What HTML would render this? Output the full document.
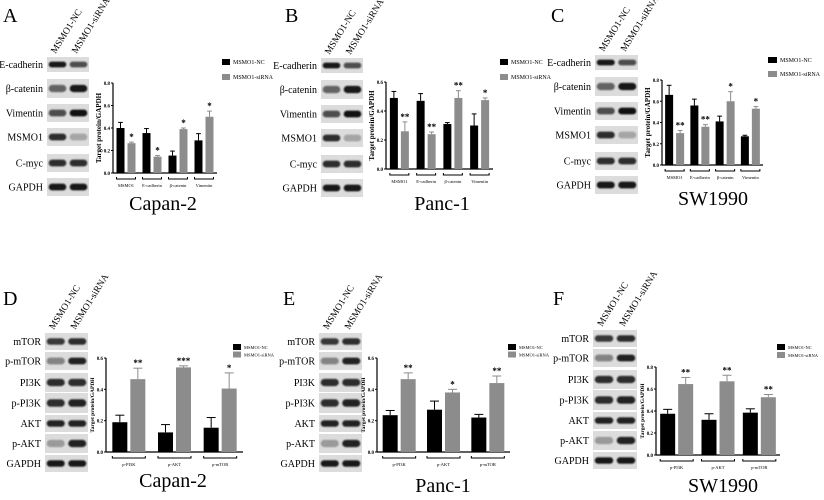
<!DOCTYPE html>
<html><head><meta charset="utf-8"><style>
html,body{margin:0;padding:0;background:#fff}
svg{display:block;font-family:"Liberation Serif",serif}
</style></head><body>
<svg id="fig" width="824" height="500" viewBox="0 0 824 500">
<defs><filter id="blur" x="-20%" y="-50%" width="140%" height="200%"><feGaussianBlur stdDeviation="0.9"/></filter></defs>
</svg>
<script>
// ---- data ----
const catsTop = ["MSMO1","E-cadherin","β-catenin","Vimentin"];
const catsBot = ["p-PI3K","p-AKT","p-mTOR"];
const aNC=[0.40,0.355,0.155,0.29], aNCe=[0.05,0.04,0.04,0.06];
const aSi=[0.265,0.145,0.39,0.50], aSie=[0.01,0.01,0.01,0.05];
const aStars=["*","*","*","*"];
const bNC=[0.49,0.47,0.31,0.30], bNCe=[0.045,0.05,0.01,0.08];
const bSi=[0.26,0.24,0.49,0.475], bSie=[0.065,0.015,0.05,0.015];
const bStars=["**","**","**","*"];
const cNC=[0.66,0.56,0.41,0.27], cNCe=[0.09,0.06,0.05,0.01];
const cSi=[0.30,0.36,0.60,0.53], cSie=[0.025,0.02,0.09,0.02];
const cStars=["**","**","*","*"];
const dNC=[0.19,0.125,0.155], dNCe=[0.045,0.05,0.065];
const dSi=[0.465,0.54,0.405], dSie=[0.07,0.01,0.1];
const dStars=["**","***","*"];
const eNC=[0.235,0.27,0.22], eNCe=[0.03,0.055,0.02];
const eSi=[0.465,0.38,0.44], eSie=[0.04,0.02,0.045];
const eStars=["**","*","**"];
const fNC=[0.375,0.32,0.385], fNCe=[0.04,0.055,0.035];
const fSi=[0.645,0.67,0.525], fSie=[0.06,0.055,0.025];
const fStars=["**","**","**"];
const ticks06=["0.0","0.2","0.4","0.6"];
const ticks08=["0.0","0.2","0.4","0.6","0.8"];
const rowsTop=["E-cadherin","β-catenin","Vimentin","MSMO1","C-myc","GAPDH"];
const rowsBot=["mTOR","p-mTOR","PI3K","p-PI3K","AKT","p-AKT","GAPDH"];

const NS="http://www.w3.org/2000/svg";
const svg=document.getElementById('fig');
function mk(tag,attrs,parent,txt){const e=document.createElementNS(NS,tag);for(const k in attrs)e.setAttribute(k,attrs[k]);if(txt!==undefined)e.textContent=txt;(parent||svg).appendChild(e);return e;}

function panel(p){
  const g=mk('g',{});
  
  
  const L=mk('text',{x:p.lx,y:p.ly,'font-size':20},g,p.letter);
  
  
  const bw=p.bx1-p.bx0, lane=bw/2;
  ["MSMO1-NC","MSMO1-siRNA"].forEach((t,i)=>{
    const cx=p.bx0+lane*(i+0.5)-2, cy=p.rows[0][0]-3;
    const tx=mk('text',{x:cx,y:cy,'font-size':9.5,transform:`rotate(-58 ${cx} ${cy})`},g,t);
    
    
  });
  p.rowNames.forEach((nm,i)=>{
    const [y0,y1]=p.rows[i];
    const r=mk('rect',{x:p.bx0,y:y0,width:bw,height:y1-y0,fill:'#dcdcdc'},g);
    
    
    const ym=(y0+y1)/2, h=(y1-y0)*0.38;
    [0,1].forEach(j=>{
      const op=p.band[i][j];
      const b=mk('rect',{x:p.bx0+lane*j+lane*0.08,y:ym-h/2,width:lane*0.84,height:h,rx:h/2,fill:'#111','fill-opacity':op,filter:'url(#blur)'},g);
      
      
    });
    const t=mk('text',{x:p.bx0-4,y:ym+3.5,'font-size':10,'text-anchor':'end'},g,nm);
    
    
  });
  const ax=p.ax, y0=p.y0, yt=p.yt, xe=p.xe, ymax=p.ymax;
  const ys=v=>y0-(v/ymax)*(y0-yt);
  const n=p.cats.length, gw=(xe-ax)/n;
  const xs=i=>ax+gw*(i+0.5);
  const bwid=p.barw;
  mk('line',{x1:ax,y1:yt,x2:ax,y2:y0,stroke:'#000','stroke-width':1.2},g);
  mk('line',{x1:ax,y1:y0,x2:xe,y2:y0,stroke:'#000','stroke-width':1.2},g);
  p.ticks.forEach(tk=>{
    const v=parseFloat(tk), y=ys(v);
    mk('line',{x1:ax-2,y1:y,x2:ax,y2:y,stroke:'#000','stroke-width':1},g);
    const t=mk('text',{x:ax-3,y:y+2,'font-size':5,'text-anchor':'end','font-weight':'bold'},g,tk);
    
    
  });
  const ym=(y0+yt)/2, yx=ax-12;
  const yt2=mk('text',{x:yx,y:ym,'font-size':p.ytfs,'font-weight':'bold','text-anchor':'middle',transform:`rotate(-90 ${yx} ${ym})`},g,'Target protein/GAPDH');
  
  
  p.cats.forEach((c,i)=>{
    const cx=xs(i);
    const series=[[p.nc,p.nce,'#000',cx-bwid-1.5],[p.si,p.sie,'#8c8c8c',cx+1.5]];
    series.forEach(([v,e,col,x],k)=>{
      const top=ys(v[i]);
      const r=mk('rect',{x:x,y:top,width:bwid,height:y0-top,fill:col},g);
      
      
      const et=ys(v[i]+e[i]), mx=x+bwid/2;
      mk('line',{x1:mx,y1:top,x2:mx,y2:et,stroke:col,'stroke-width':1},g);
      mk('line',{x1:mx-bwid*0.3,y1:et,x2:mx+bwid*0.3,y2:et,stroke:col,'stroke-width':1},g);
      if(k===1){
        const s=mk('text',{x:mx,y:et-2,'font-size':9,'font-weight':'bold','text-anchor':'middle'},g,p.stars[i]);
        
        
      }
    });
    const bx0=cx-bwid-1.5, bx1=cx+bwid+1.5, by=y0+6;
    mk('path',{d:`M${bx0} ${by-2}V${by}H${bx1}V${by-2}`,stroke:'#000',fill:'none','stroke-width':1},g);
    const t=mk('text',{x:cx,y:by+8,'font-size':4.5,'text-anchor':'middle'},g,c);
    
    
  });
  [["MSMO1-NC",'#000'],["MSMO1-siRNA",'#8c8c8c']].forEach(([t,col],i)=>{
    const y=p.legy+i*p.legdy;
    const r=mk('rect',{x:p.legx,y:y-3,width:p.legw,height:6,fill:col},g);
    
    
    const tt=mk('text',{x:p.legx+p.legw+3,y:y+2,'font-size':p.legfs},g,t);
    
    
  });
  const ti=mk('text',{x:p.tx,y:p.ty,'font-size':20,'text-anchor':'middle'},g,p.title);
  
  
}
const rowsT=[[57,72],[79,98],[104,122],[128,146],[154,172],[178,196]];
const rowsB=[[333,350],[352,370],[373,392],[393,413],[415,432],[434,453],[455,472]];
const bandTop=[[0.95,0.7],[0.6,0.95],[0.7,0.98],[0.85,0.25],[0.85,0.85],[0.95,0.95]];
const bandBot=[[0.8,0.85],[0.45,0.9],[0.85,0.85],[0.85,0.9],[0.9,0.9],[0.3,0.9],[0.95,0.95]];
const shiftR=(r,d)=>r.map(a=>[a[0]+d,a[1]+d]);
panel({letter:'A',lx:3,ly:22,bx0:47,bx1:89,rows:rowsT,rowNames:rowsTop,band:bandTop,
  ax:113,y0:173,yt:83,xe:217,ymax:0.8,ticks:ticks08,cats:catsTop,nc:aNC,nce:aNCe,si:aSi,sie:aSie,stars:aStars,barw:8,ytfs:7,
  legx:222,legy:62,legdy:15,legw:8,legfs:6,title:'Capan-2',tx:163,ty:210});
panel({letter:'B',lx:285,ly:22,bx0:321,bx1:363,rows:shiftR(rowsT,1),rowNames:rowsTop,band:bandTop,
  ax:386,y0:169,yt:82,xe:493,ymax:0.6,ticks:ticks06,cats:catsTop,nc:bNC,nce:bNCe,si:bSi,sie:bSie,stars:bStars,barw:8,ytfs:7,
  legx:500,legy:62,legdy:15,legw:8,legfs:6,title:'Panc-1',tx:442,ty:210});
panel({letter:'C',lx:551,ly:22,bx0:595,bx1:638,rows:shiftR(rowsT,-2),rowNames:rowsTop,band:bandTop,
  ax:662,y0:165,yt:80,xe:763,ymax:0.8,ticks:ticks08,cats:catsTop,nc:cNC,nce:cNCe,si:cSi,sie:cSie,stars:cStars,barw:8,ytfs:7,
  legx:768,legy:60,legdy:14,legw:9,legfs:6,title:'SW1990',tx:713,ty:205});
panel({letter:'D',lx:3,ly:305,bx0:45,bx1:88,rows:rowsB,rowNames:rowsBot,band:bandBot,
  ax:106,y0:452,yt:358,xe:243,ymax:0.6,ticks:ticks06,cats:catsBot,nc:dNC,nce:dNCe,si:dSi,sie:dSie,stars:dStars,barw:15,ytfs:5.5,
  legx:233,legy:347,legdy:7.5,legw:8,legfs:4.5,title:'Capan-2',tx:173,ty:487});
panel({letter:'E',lx:283,ly:305,bx0:319,bx1:362,rows:rowsB,rowNames:rowsBot,band:bandBot,
  ax:377,y0:452,yt:358,xe:510,ymax:0.6,ticks:ticks06,cats:catsBot,nc:eNC,nce:eNCe,si:eSi,sie:eSie,stars:eStars,barw:15,ytfs:5.5,
  legx:508,legy:347,legdy:7.5,legw:8,legfs:4.5,title:'Panc-1',tx:443,ty:492});
panel({letter:'F',lx:553,ly:305,bx0:593,bx1:637,rows:shiftR(rowsB,-3),rowNames:rowsBot,band:bandBot,
  ax:656,y0:455,yt:367,xe:780,ymax:0.8,ticks:ticks08,cats:catsBot,nc:fNC,nce:fNCe,si:fSi,sie:fSie,stars:fStars,barw:15,ytfs:5.5,
  legx:777,legy:347,legdy:8,legw:8,legfs:4.5,title:'SW1990',tx:723,ty:492});
</script>
</body></html>
